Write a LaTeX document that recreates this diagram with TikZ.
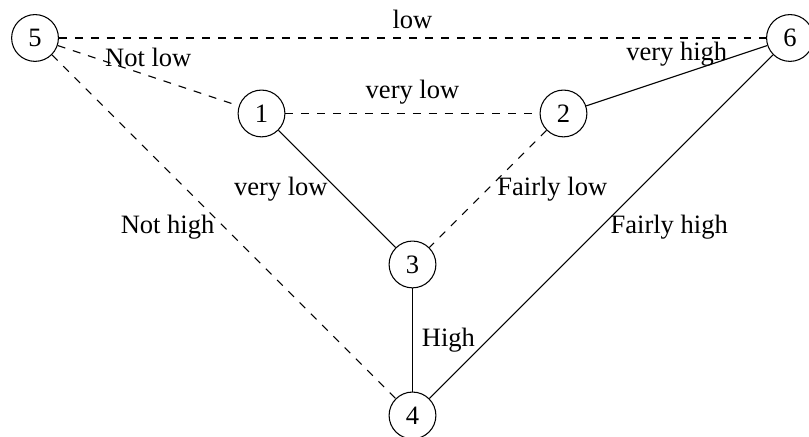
\documentclass[tikz,border=0pt]{standalone}
\usepackage{fontspec}
\setmainfont{Liberation Serif}
\usetikzlibrary{positioning}

\begin{document}
\begin{tikzpicture}[
	vertex/.style={circle, draw=black, minimum size=0.62cm, inner sep=0pt},
	weak/.style={dashed, draw=black},
	strong/.style={draw=black}
]
\useasboundingbox (-3.464,-4.285) rectangle (7.252,1.503);
\node (n1) [vertex] at (0,0) {1};
\node (n2) [vertex] at (4,0) {2};
\node (n3) [vertex] at (2,-2) {3};
\node (n4) [vertex] at (2,-4) {4};
\node (n5) [vertex] at (-3,1) {5};
\node (n6) [vertex] at (7,1) {6};
\draw [weak] (n5) -- node[above] {low} (n6);
\draw [weak] (n5) -- node[above] {Not low} (n1);
\draw [weak] (n1) -- node[above] {very low} (n2);
\draw [weak] (n2) -- node[right] {Fairly low} (n3);
\draw [weak] (n5) -- node[left] {Not high} (n4);
\draw [strong] (n2) -- node[above] {very high} (n6);
\draw [strong] (n1) -- node[left] {very low} (n3);
\draw [strong] (n3) -- node[right] {High} (n4);
\draw [strong] (n6) -- node[right] {Fairly high} (n4);
\end{tikzpicture}
\end{document}
